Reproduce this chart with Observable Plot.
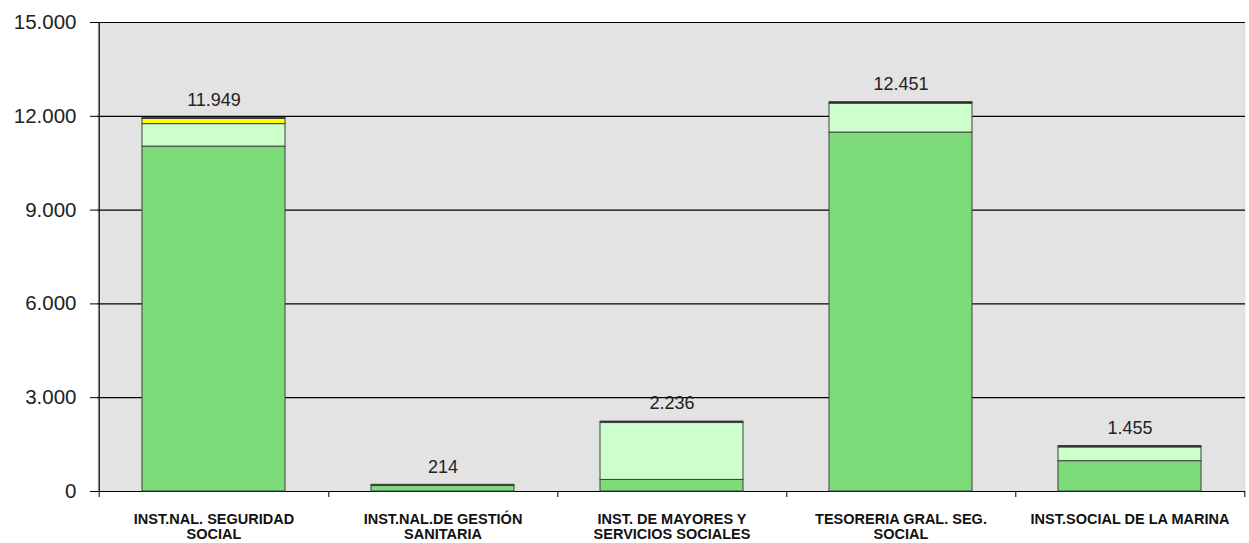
<!DOCTYPE html>
<html>
<head>
<meta charset="utf-8">
<script src="https://cdn.jsdelivr.net/npm/d3@7"></script>
<script src="https://cdn.jsdelivr.net/npm/@observablehq/plot@0.6"></script>
<style>
  body { margin: 0; background: #fff; }
  svg { display: block; }
</style>
</head>
<body>
<div id="chart"></div>
<script>
// Categories (two-line labels)
const categories = [
  "INST.NAL. SEGURIDAD\nSOCIAL",
  "INST.NAL.DE GESTIÓN\nSANITARIA",
  "INST. DE MAYORES Y\nSERVICIOS SOCIALES",
  "TESORERIA GRAL. SEG.\nSOCIAL",
  "INST.SOCIAL DE LA MARINA"
];
// Stacked series (bottom to top)
const seriesNames = ["S1", "S2", "S3", "S4"];
const s1 = [11030, 175, 370, 11480, 970];
const s2 = [720, 0, 1820, 925, 440];
const s3 = [165, 0, 0, 0, 0];
const s4 = [34, 39, 46, 46, 45];
const totals = [11949, 214, 2236, 12451, 1455];
const yTicks = [0, 3000, 6000, 9000, 12000, 15000];

const seriesValues = [s1, s2, s3, s4];
const data = [];
categories.forEach((c, i) => {
  seriesNames.forEach((s, j) => {
    data.push({cat: c, series: s, value: seriesValues[j][i]});
  });
});
const totalData = categories.map((c, i) => ({cat: c, total: totals[i]}));

const loc = d3.formatLocale({decimal: ",", thousands: ".", grouping: [3], currency: ["", "€"]});
const fmt = loc.format(",d");

const W = 1249, H = 543;
const mL = 97, mR = 4, mT = 22, mB = 52;
const bw = (W - mL - mR) / categories.length;

const chart = Plot.plot({
  width: W,
  height: H,
  marginLeft: mL,
  marginRight: mR,
  marginTop: mT,
  marginBottom: mB,
  style: {fontFamily: "'Liberation Sans', Arial, sans-serif", background: "#fff"},
  x: {domain: categories, padding: 0, label: null, axis: null},
  y: {domain: [0, 15000], label: null, axis: null},
  color: {domain: seriesNames, range: ["#7ddb7a", "#ccffcc", "#ffff00", "#111111"]},
  marks: [
    Plot.frame({fill: "#e3e3e3", stroke: null}),
    Plot.ruleY(yTicks, {stroke: "#000", strokeWidth: 1.2}),
    Plot.barY(data, {x: "cat", y: "value", fill: "series", stroke: "#404040", strokeWidth: 1,
      insetLeft: 43, insetRight: 43}),
    Plot.ruleX([categories[0]], {x: d => d, dx: -bw / 2, y1: 0, y2: 15000, stroke: "#000", strokeWidth: 1.2}),
    Plot.axisY({ticks: yTicks, tickFormat: fmt, tickSize: 7, fontSize: 20.5, tickPadding: 14, label: null, stroke: "#000", color: "#222"}),
    Plot.axisX({tickSize: 0, tickPadding: 22, fontSize: 14.5, fontWeight: "bold", lineHeight: 1.02,
      color: "#111", label: null}),
    // short boundary ticks below the category axis
    Plot.ruleX(categories, {x: d => d, dx: bw / 2, y1: 0, y2: 0, insetBottom: -6, stroke: "#000"}),
    Plot.ruleX([categories[0]], {x: d => d, dx: -bw / 2, y1: 0, y2: 0, insetBottom: -6, stroke: "#000"}),
    Plot.text(totalData, {x: "cat", y: "total", text: d => fmt(d.total), dy: -18, fontSize: 18, fill: "#222"})
  ]
});

document.getElementById("chart").appendChild(chart);
</script>
</body>
</html>
